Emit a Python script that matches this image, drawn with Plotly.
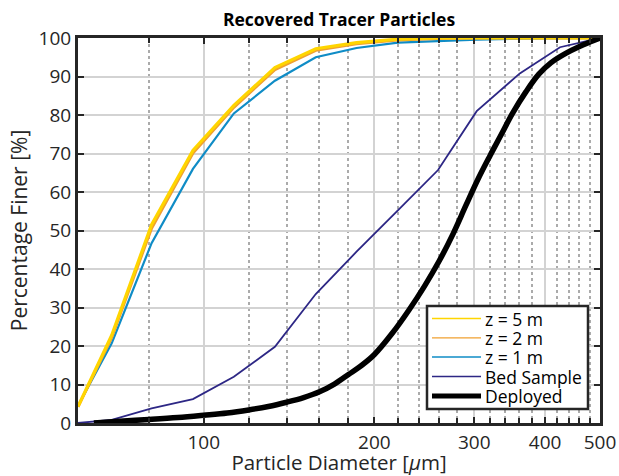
import plotly.graph_objects as go
import math

# ---------------- data ----------------
sieve_d = [60, 68.8, 80.9, 95.7, 113, 133.5, 157.6, 186, 220, 259, 303, 361, 425, 500]
z5_finer = [4.3, 22.8, 51.5, 70.8, 82.5, 92.3, 97.2, 98.8, 99.7, 100, 100, 100, 100, 100]
z2_finer = [4.2, 22.2, 50.6, 70.1, 82.0, 91.8, 96.8, 98.5, 99.5, 99.9, 100, 100, 100, 100]
z1_finer = [4.5, 20.7, 46.7, 66.0, 80.4, 88.9, 95.0, 97.4, 98.8, 99.3, 99.6, 99.8, 99.9, 100]
bed_finer = [0, 0.8, 3.8, 6.2, 12.0, 19.8, 33.5, 44.5, 55.2, 65.7, 81.0, 90.8, 97.6, 100]

deployed_d = [64, 70, 80, 90, 100, 110, 120, 130, 140, 150, 160, 170, 180, 190, 200,
              215, 230, 245, 260, 275, 290, 305, 320, 335, 350, 370, 390, 410, 435,
              460, 485, 500]
deployed_finer = [0, 0.4, 0.9, 1.4, 2.0, 2.6, 3.4, 4.3, 5.4, 6.6, 8.1, 10.1, 12.6, 15.0, 17.8,
                  23.3, 29.3, 35.5, 42.0, 49.0, 56.5, 63.5, 69.5, 75.0, 80.3, 86.0, 90.6, 93.6,
                  96.0, 97.8, 99.2, 100]

x_major_ticks = [100, 200, 300, 400, 500]
x_minor_ticks = [80, 120, 140, 160, 180, 220, 240, 260, 280, 320, 340, 360, 380,
                 420, 440, 460, 480]
y_ticks = list(range(0, 101, 10))

series_names = ["z = 5 m", "z = 2 m", "z = 1 m", "Bed Sample", "Deployed"]
series_colors = ["#FFD500", "#F0A030", "#0F8CC6", "#2D2785", "#000000"]
plot_widths = [3.2, 3.0, 2.2, 1.8, 5.5]
legend_widths = [1.3, 1.3, 1.3, 1.3, 5]

FONT = "Open Sans"
DARK = "#262626"

fig = go.Figure()

# draw order: blue, orange, yellow, purple, black
fig.add_trace(go.Scatter(x=sieve_d, y=z1_finer, mode="lines", name=series_names[2],
                         line=dict(color=series_colors[2], width=plot_widths[2])))
fig.add_trace(go.Scatter(x=sieve_d, y=z2_finer, mode="lines", name=series_names[1],
                         line=dict(color=series_colors[1], width=plot_widths[1])))
fig.add_trace(go.Scatter(x=sieve_d, y=z5_finer, mode="lines", name=series_names[0],
                         line=dict(color=series_colors[0], width=plot_widths[0])))
fig.add_trace(go.Scatter(x=sieve_d, y=bed_finer, mode="lines", name=series_names[3],
                         line=dict(color=series_colors[3], width=plot_widths[3])))
fig.add_trace(go.Scatter(x=deployed_d, y=deployed_finer, mode="lines", name=series_names[4],
                         line=dict(color=series_colors[4], width=plot_widths[4], shape="spline",
                                   smoothing=1.0)))

W, H = 619, 476
ML, MR, MT, MB = 78, 19, 38, 53
PW, PH = W - ML - MR, H - MT - MB


def px_x(p):
    return (p - ML) / PW


def px_y(p):
    return (H - MB - p) / PH


# custom legend box
shapes = [dict(type="rect", xref="paper", yref="paper",
               x0=px_x(427), x1=px_x(588), y0=px_y(409), y1=px_y(306),
               line=dict(color=DARK, width=2.5), fillcolor="white", layer="above")]
annotations = []
rows_px = [318.5, 337.8, 357.0, 376.5, 396.0]
for name, col, lw, rp in zip(series_names, series_colors, legend_widths, rows_px):
    shapes.append(dict(type="line", xref="paper", yref="paper",
                       x0=px_x(432), x1=px_x(481), y0=px_y(rp), y1=px_y(rp),
                       line=dict(color=col, width=lw), layer="above"))
    annotations.append(dict(text=name, xref="paper", yref="paper", x=px_x(483), y=px_y(rp),
                            xanchor="left", yanchor="middle", showarrow=False,
                            font=dict(family=FONT, size=17.5, color="black")))

fig.update_layout(
    width=W, height=H,
    margin=dict(l=ML, r=MR, t=MT, b=MB, autoexpand=False),
    paper_bgcolor="white", plot_bgcolor="white",
    showlegend=False,
    font=dict(family=FONT, color=DARK),
    title=dict(text="<b>Recovered Tracer Particles</b>", x=0.5, xref="paper",
               y=1 - 20 / H, yref="container", xanchor="center", yanchor="middle",
               font=dict(family=FONT, size=17.5, color="black")),
    shapes=shapes,
    annotations=annotations,
)

fig.update_xaxes(
    type="log", range=[math.log10(60), math.log10(500)],
    tickvals=x_major_ticks, ticktext=[str(v) for v in x_major_ticks],
    tickfont=dict(family=FONT, size=19, color=DARK),
    ticks="inside", ticklen=6, tickwidth=2, tickcolor=DARK,
    showline=True, linewidth=3, linecolor=DARK, mirror="allticks",
    showgrid=True, gridcolor="#D3D3D3", gridwidth=2,
    minor=dict(tickvals=x_minor_ticks, ticks="inside", ticklen=5, tickwidth=1.5,
               tickcolor=DARK, showgrid=True, gridcolor="#ABABAB", gridwidth=2,
               griddash="dot"),
    title=dict(text="Particle Diameter [<i>μ</i>m]", standoff=5,
               font=dict(family=FONT, size=20.5, color=DARK)),
    zeroline=False,
)
fig.update_yaxes(
    range=[0, 100], tickvals=y_ticks,
    tickfont=dict(family=FONT, size=19, color=DARK),
    ticks="inside", ticklen=6, tickwidth=2, tickcolor=DARK,
    showline=True, linewidth=3, linecolor=DARK, mirror="allticks",
    showgrid=True, gridcolor="#D3D3D3", gridwidth=2,
    title=dict(text="Percentage Finer [%]", standoff=6,
               font=dict(family=FONT, size=21, color=DARK)),
    zeroline=False,
)

fig.write_html("out.html",
               config={"displayModeBar": False},
               post_script="document.body.style.margin='0px';"
                           "document.body.style.overflow='hidden';")
